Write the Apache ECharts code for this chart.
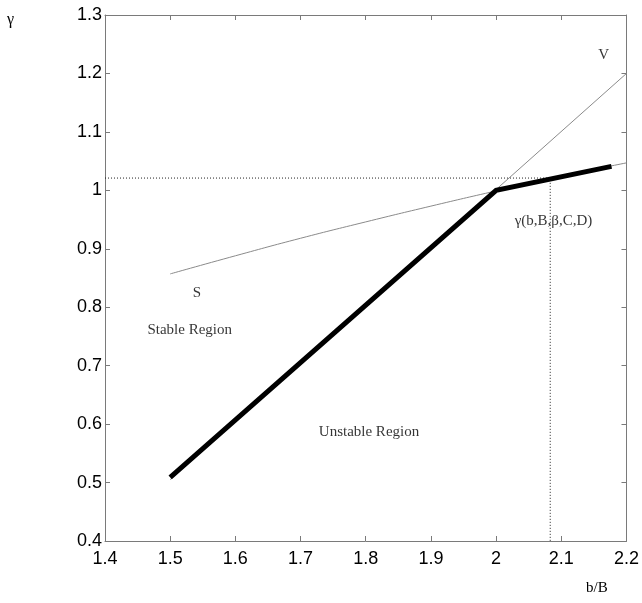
<!DOCTYPE html>
<html>
<head>
<meta charset="utf-8">
<script src="https://cdn.jsdelivr.net/npm/echarts@6/dist/echarts.min.js"></script>
<style>
  html, body { margin: 0; padding: 0; background: #fff; }
  #chart { width: 642px; height: 603px; }
</style>
</head>
<body>
<div id="chart"></div>
<script>
// boundary curves
const gammaX = [1.5, 2.0, 2.177];
const gammaY = [0.509, 1.0, 1.041];

const vX = [1.5, 2.2];
const vY = [0.505, 1.2];

const sX = [1.5, 1.6, 1.7, 1.8, 1.9, 2.0, 2.1, 2.2];
const sY = [0.857, 0.888, 0.918, 0.946, 0.973, 0.999, 1.024, 1.047];

// dotted guide at the operating point
const guideX = [1.4, 2.083, 2.083];
const guideY = [1.021, 1.021, 0.4];

const annoText = ['V', 'γ(b,B,β,C,D)', 'S', 'Stable Region', 'Unstable Region'];
const annoX = [2.165, 2.088, 1.541, 1.530, 1.805];
const annoY = [1.232, 0.947, 0.824, 0.761, 0.586];

const pairs = (xs, ys) => xs.map((x, i) => [x, ys[i]]);

const chart = echarts.init(document.getElementById('chart'));

const axisGrey = '#7a7a7a';
const tickFont = { fontFamily: 'Liberation Sans', fontSize: 18, color: '#000' };

const xBase = {
  type: 'value', min: 1.4, max: 2.2, interval: 0.1,
  axisLine: { onZero: false, lineStyle: { color: axisGrey, width: 1 } },
  axisTick: { inside: true, length: 5, lineStyle: { color: axisGrey } },
  splitLine: { show: false },
};
const yBase = {
  type: 'value', min: 0.4, max: 1.3, interval: 0.1,
  axisLine: { onZero: false, lineStyle: { color: axisGrey, width: 1 } },
  axisTick: { inside: true, length: 5, lineStyle: { color: axisGrey } },
  splitLine: { show: false },
};

chart.setOption({
  animation: false,
  grid: { left: 105, right: 14, top: 15, bottom: 62 },
  xAxis: [
    { ...xBase, position: 'bottom',
      axisLabel: { ...tickFont, margin: 9, formatter: v => String(+v.toFixed(1)) } },
    { ...xBase, position: 'top', axisLabel: { show: false } },
  ],
  yAxis: [
    { ...yBase, position: 'left',
      axisLabel: { ...tickFont, margin: 3, formatter: v => String(+v.toFixed(1)) } },
    { ...yBase, position: 'right', axisLabel: { show: false } },
  ],
  graphic: [
    { type: 'text', left: 7, top: 12,
      style: { text: 'γ', font: '16px "Liberation Serif"', fill: '#000' } },
    { type: 'text', left: 586, top: 581,
      style: { text: 'b/B', font: '15px "Liberation Serif"', fill: '#000' } },
  ],
  series: [
    { type: 'line', data: pairs(vX, vY), symbol: 'none', silent: true,
      lineStyle: { color: '#8a8a8a', width: 1 } },
    { type: 'line', data: pairs(sX, sY), symbol: 'none', smooth: true, silent: true,
      lineStyle: { color: '#8a8a8a', width: 1 } },
    { type: 'line', data: pairs(guideX, guideY), symbol: 'none', silent: true,
      lineStyle: { color: '#222', width: 1, type: [1, 2] } },
    { type: 'line', data: pairs(gammaX, gammaY), symbol: 'none', silent: true,
      lineStyle: { color: '#000', width: 5, cap: 'butt', join: 'miter' } },
    { type: 'scatter', symbolSize: 0, silent: true,
      data: annoX.map((x, i) => ({ value: [x, annoY[i]], name: annoText[i] })),
      label: { show: true, position: 'inside', formatter: p => p.name,
        fontFamily: 'Liberation Serif', fontSize: 15, color: '#000', textBorderWidth: 0,
        backgroundColor: '#fff', padding: [6, 2] } },
  ],
});
</script>
</body>
</html>
